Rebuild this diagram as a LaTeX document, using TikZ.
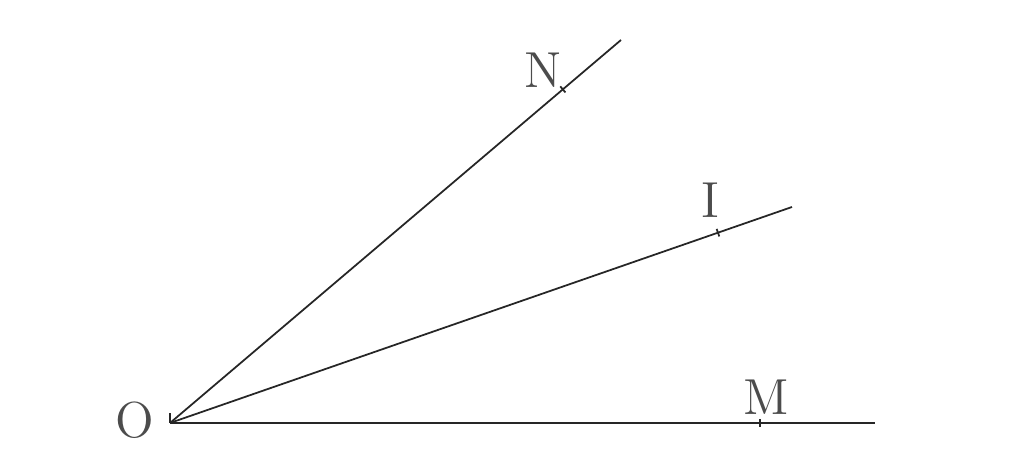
\documentclass[tikz,border=0pt]{standalone}
\usepackage{tikz}
\usetikzlibrary{calc}
\tikzset{ray/.style={draw=black!85, line width=0.5pt}, tick/.style={draw=black!85, line width=0.5pt}, lbl/.style={font=\Large, text=black!70}}
\begin{document}
\begin{tikzpicture}[auto]
    \useasboundingbox (0,0) rectangle (10.24,4.63);
    \coordinate (O) at (1.70,0.40);
    \coordinate (Nend) at (6.21,4.23);
    \coordinate (Iend) at (7.92,2.56);
    \coordinate (Mend) at (8.75,0.40);
    \draw[ray] (O) -- (Nend);
    \draw[ray] (O) -- (Iend);
    \draw[ray] (O) -- (Mend);
    \coordinate (N) at ($(O)!0.871!(Nend)$);
    \coordinate (I) at ($(O)!0.881!(Iend)$);
    \coordinate (M) at ($(O)!0.837!(Mend)$);
    \draw[tick] ($(N)!0.04cm!90:(O)$) -- ($(N)!0.04cm!-90:(O)$);
    \draw[tick] ($(I)!0.04cm!90:(O)$) -- ($(I)!0.04cm!-90:(O)$);
    \draw[tick] ($(M)!0.04cm!90:(O)$) -- ($(M)!0.04cm!-90:(O)$);
    \draw[tick] (O) -- ++(0,0.1);
    \node[lbl] (lO) at (1.35,0.43) {O};
    \node[lbl] (lN) at (5.43,3.93) {N};
    \node[lbl] (lI) at (7.10,2.63) {I};
    \node[lbl] (lM) at (7.66,0.66) {M};
\end{tikzpicture}
\end{document}
